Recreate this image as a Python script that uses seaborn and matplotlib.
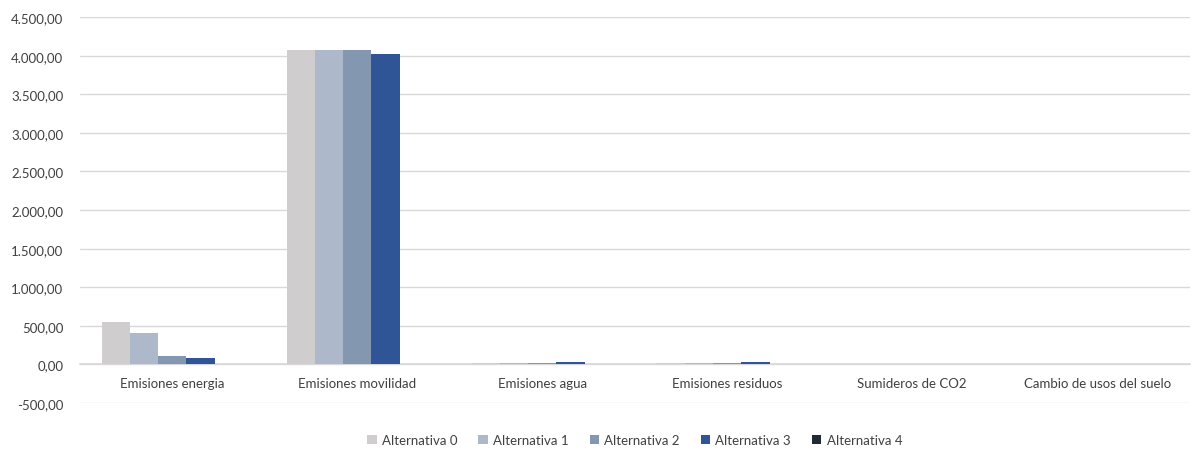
import matplotlib
matplotlib.use("Agg")
import matplotlib.pyplot as plt
import seaborn as sns
import pandas as pd
from matplotlib.ticker import FuncFormatter, MultipleLocator

categories = ["Emisiones energia", "Emisiones movilidad", "Emisiones agua",
              "Emisiones residuos", "Sumideros de CO2", "Cambio de usos del suelo"]
series = ["Alternativa 0", "Alternativa 1", "Alternativa 2", "Alternativa 3", "Alternativa 4"]
alt0 = [552, 4068, 25, 25, 0, 0]
alt1 = [406, 4068, 25, 25, 0, 0]
alt2 = [108, 4068, 25, 25, 0, 0]
alt3 = [87, 4025, 28, 28, 0, 0]
alt4 = [0, 0, 0, 0, 0, 0]
colors = ["#CFCDCD", "#ADB9CA", "#8497B0", "#2F5597", "#222A35"]

rows = []
for s, vals in zip(series, [alt0, alt1, alt2, alt3, alt4]):
    for c, v in zip(categories, vals):
        rows.append({"cat": c, "serie": s, "val": v})
df = pd.DataFrame(rows)

sns.set_theme(style="white")
plt.rcParams["font.family"] = ["Lato", "DejaVu Sans"]

fig = plt.figure(figsize=(11.92, 4.52), dpi=100)
ax = fig.add_axes([0.067, 0.106, 0.931, 0.854])

sns.barplot(data=df, x="cat", y="val", hue="serie", order=categories,
            hue_order=series, palette=colors, width=0.765, gap=0,
            saturation=1, ax=ax, errorbar=None, linewidth=0, edgecolor="none",
            zorder=3)

ax.set_ylim(-500, 4500)
ax.set_xlim(-0.5, 5.5)
ax.yaxis.set_major_locator(MultipleLocator(500))

def fmt(v, pos):
    s = f"{v:,.2f}"
    return s.replace(",", "X").replace(".", ",").replace("X", ".")
ax.yaxis.set_major_formatter(FuncFormatter(fmt))

ax.grid(axis="y", color="#D9D9D9", linewidth=1, zorder=0)
ax.set_axisbelow(True)
for sp in ["top", "right", "left"]:
    ax.spines[sp].set_visible(False)
ax.spines["bottom"].set_position(("data", 0))
ax.spines["bottom"].set_color("#D9D9D9")
ax.spines["bottom"].set_zorder(2)
ax.tick_params(axis="x", length=0, pad=9, labelsize=9.5, labelcolor="#404040")
ax.tick_params(axis="y", length=0, pad=12, labelsize=9.5, labelcolor="#404040")
ax.set_xlabel("")
ax.set_ylabel("")

handles, labels = ax.get_legend_handles_labels()
ax.legend(handles, labels, loc="center", bbox_to_anchor=(0.5, -0.095),
          bbox_transform=ax.transAxes, ncol=5, frameon=False, fontsize=9.5,
          handlelength=0.7, handleheight=0.7, handletextpad=0.4, columnspacing=1.6,
          labelcolor="#404040")
fig.savefig("out.png", dpi=100)
